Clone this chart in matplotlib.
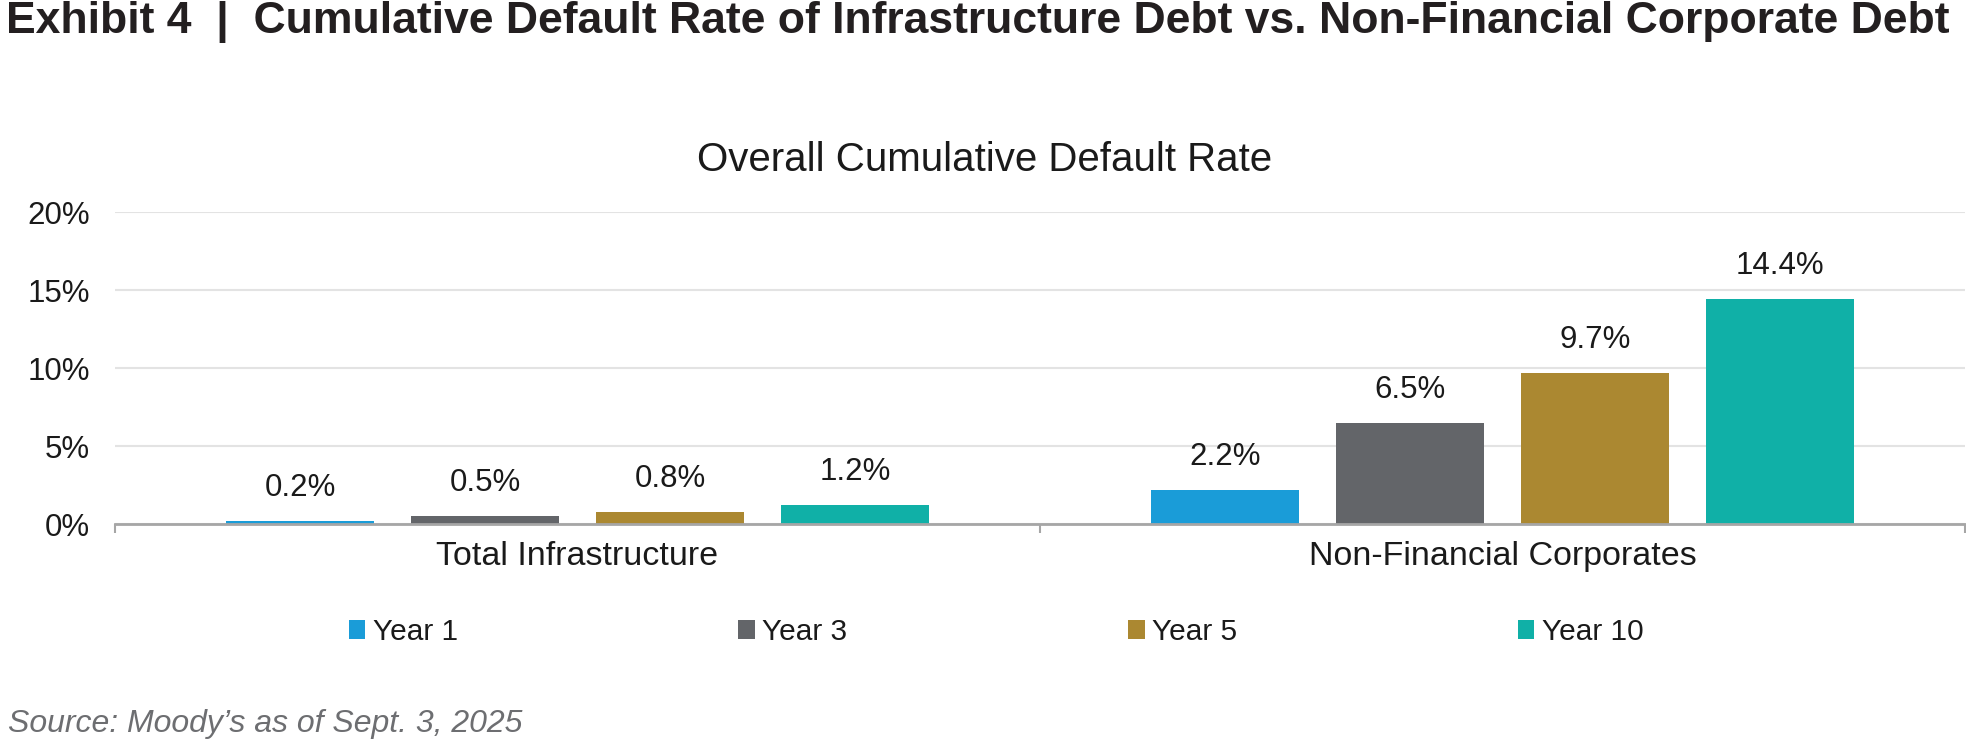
import matplotlib

matplotlib.use("Agg")
import matplotlib.pyplot as plt
from matplotlib.patches import Patch

plt.rcParams["font.family"] = ["Liberation Sans", "DejaVu Sans"]

# Data
categories = ["Total Infrastructure", "Non-Financial Corporates"]
series = ["Year 1", "Year 3", "Year 5", "Year 10"]
year_1 = [0.2, 2.2]
year_3 = [0.5, 6.5]
year_5 = [0.8, 9.7]
year_10 = [1.2, 14.4]
y_ticks = [0, 5, 10, 15, 20]
colors = ["#1a9cd8", "#636569", "#ab8831", "#10b0a7"]

values = [year_1, year_3, year_5, year_10]
offsets = [-0.3, -0.1, 0.1, 0.3]
bar_width = 0.16
text_color = "#1a1a1a"

W, H = 1966, 742
fig = plt.figure(figsize=(W / 100, H / 100), dpi=100)
ax = fig.add_axes([115 / W, (H - 524) / H, (1965 - 115) / W, (524 - 212) / H])

for vals, off, col in zip(values, offsets, colors):
    xs = [i + off for i in range(len(categories))]
    ax.bar(xs, vals, width=bar_width, color=col, zorder=2)
    for x, v in zip(xs, vals):
        ax.annotate(
            f"{v:.1f}%",
            (x, v),
            xytext=(0, 18),
            textcoords="offset points",
            ha="center",
            va="baseline",
            fontsize=22.5,
            color=text_color,
        )

ax.set_xlim(-0.5, 1.5)
ax.set_ylim(0, 20)
ax.set_yticks(y_ticks)
ax.set_yticklabels([f"{t}%" for t in y_ticks])
ax.tick_params(axis="y", length=0, pad=18, labelsize=22.5, labelcolor=text_color)

ax.set_xticks(range(len(categories)))
ax.set_xticklabels(categories)
ax.set_xticks([-0.5, 0.5, 1.5], minor=True)
ax.tick_params(axis="x", which="major", length=0, pad=12, labelsize=24.5,
               labelcolor=text_color)
ax.tick_params(axis="x", which="minor", length=6.5, width=1.5, color="#a6a6a6")

ax.yaxis.grid(True, color="#e3e3e3", linewidth=1.5)
ax.set_axisbelow(True)
for side in ["top", "right", "left"]:
    ax.spines[side].set_visible(False)
ax.spines["bottom"].set_color("#a6a6a6")
ax.spines["bottom"].set_linewidth(2)
ax.spines["bottom"].set_zorder(3)

handles = [Patch(facecolor=c, edgecolor="none") for c in colors]
fig.legend(
    handles,
    series,
    loc="center",
    bbox_to_anchor=(996 / W, 1 - 632 / H),
    ncol=4,
    frameon=False,
    fontsize=21.5,
    handlelength=0.55,
    handleheight=0.6,
    handletextpad=0.25,
    columnspacing=9.4,
    labelcolor=text_color,
)

fig.text(985 / W, 1 - 160 / H, "Overall Cumulative Default Rate",
         ha="center", va="center", fontsize=29, color=text_color)

title = fig.text(6 / W, 1 - 22 / H,
                 "Exhibit 4  |  Cumulative Default Rate of Infrastructure Debt vs. "
                 "Non-Financial Corporate Debt",
                 ha="left", va="center", fontsize=28, fontweight="bold",
                 color="#231f20")
# stretch the headline to the full width like the original
fig.canvas.draw()
ext = title.get_window_extent()
title.set_fontsize(28 * (1944 / ext.width))

fig.text(8 / W, 1 - 724 / H, "Source: Moody\u2019s as of Sept. 3, 2025",
         ha="left", va="center", fontsize=23, style="italic", color="#6d6e71")

fig.savefig("out.png", dpi=100)
